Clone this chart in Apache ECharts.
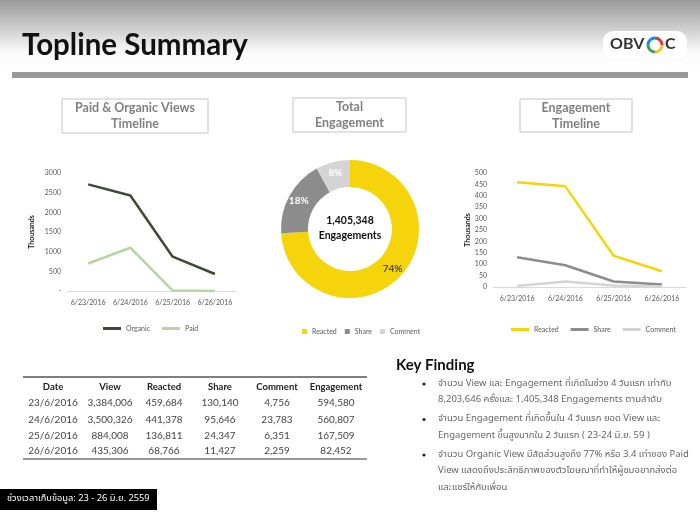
<!DOCTYPE html>
<html>
<head>
<meta charset="utf-8">
<script src="https://cdn.jsdelivr.net/npm/echarts@6/dist/echarts.min.js"></script>
<style>
  html, body { margin: 0; padding: 0; background: #fff; }
  #main { width: 700px; height: 525px; }
</style>
</head>
<body>
<div id="main"></div>
<script>
// ---- data ----
const days = ['6/23/2016', '6/24/2016', '6/25/2016', '6/26/2016'];
const organicViews = [2710, 2430, 872, 432];   // thousands
const paidViews = [700, 1100, 12, 3];          // thousands
const reactedK = [459.7, 441.4, 136.8, 68.8];  // thousands
const shareK = [130.1, 95.6, 24.3, 11.4];
const commentK = [4.8, 23.8, 6.4, 2.3];
const shareNames = ['Reacted', 'Share', 'Comment'];
const sharePct = [74, 18, 8];
const totalEngagement = '1,405,348';

const tableHead = ['Date', 'View', 'Reacted', 'Share', 'Comment', 'Engagement'];
const tableDates = ['23/6/2016', '24/6/2016', '25/6/2016', '26/6/2016'];
const tableView = ['3,384,006', '3,500,326', '884,008', '435,306'];
const tableReacted = ['459,684', '441,378', '136,811', '68,766'];
const tableShare = ['130,140', '95,646', '24,347', '11,427'];
const tableComment = ['4,756', '23,783', '6,351', '2,259'];
const tableEngagement = ['594,580', '560,807', '167,509', '82,452'];

const findings = [
  ['จำนวน View และ Engagement ที่เกิดในช่วง 4 วันแรก เท่ากับ', '8,203,646 ครั้งและ 1,405,348 Engagements ตามลำดับ'],
  ['จำนวน Engagement ที่เกิดขึ้นใน 4 วันแรก ยอด View และ', 'Engagement ขึ้นสูงมากใน 2 วันแรก ( 23-24 มิ.ย. 59 )'],
  ['จำนวน Organic View มีสัดส่วนสูงถึง 77% หรือ 3.4 เท่าของ Paid', 'View แสดงถึงประสิทธิภาพของตัวโฆษณาที่ทำให้ผู้ชมอยากส่งต่อ', 'และแชร์ให้กับเพื่อน']
];
const footerText = 'ช่วงเวลาเก็บข้อมูล: 23 - 26 มิ.ย. 2559';

const YELLOW = '#f5d40c';
const GRAY = '#8c8c8c';
const LIGHT = '#d4d4d4';
const FONT = 'Lato, "Open Sans", sans-serif';
const THAI = '"Noto Sans Thai", "Noto Sans", sans-serif';

// ---- graphic pieces ----
const graphics = [];
graphics.push({
  type: 'rect', shape: { x: 0, y: 0, width: 700, height: 70 }, silent: true,
  style: { fill: new echarts.graphic.LinearGradient(0, 0, 0, 1, [
    { offset: 0, color: '#9a9a9a' }, { offset: 0.75, color: '#fafafa' }, { offset: 1, color: '#ffffff' }]) }
});
graphics.push({ type: 'text', left: 22, top: 30,
  style: { text: 'Topline Summary', font: 'bold 29.5px ' + FONT, fill: '#111' } });
graphics.push({ type: 'rect', shape: { x: 12, y: 72, width: 676, height: 6 }, style: { fill: '#999' } });

// logo
graphics.push({ type: 'rect', shape: { x: 603, y: 31, width: 84, height: 28, r: 10 }, style: { fill: '#fff' } });
graphics.push({ type: 'text', left: 610, top: 36, style: { text: 'OBV', font: 'bold 16px ' + FONT, fill: '#333' } });
[['#e53935', -Math.PI / 2, 0], ['#fbc02d', 0, Math.PI / 2], ['#43a047', Math.PI / 2, Math.PI], ['#1e88e5', Math.PI, Math.PI * 1.5]]
  .forEach(function (a) {
    graphics.push({ type: 'arc', shape: { cx: 655, cy: 45, r: 7, startAngle: a[1], endAngle: a[2] },
      style: { stroke: a[0], lineWidth: 3, fill: null } });
  });
graphics.push({ type: 'text', left: 665, top: 36, style: { text: 'C', font: 'bold 16px ' + FONT, fill: '#333' } });

// chart title boxes
function titleBox(x, y, w, h, lines) {
  graphics.push({ type: 'rect', shape: { x: x, y: y, width: w, height: h },
    style: { fill: '#fff', stroke: '#c4c4c4', lineWidth: 1 } });
  graphics.push({ type: 'text', x: x + w / 2, y: y + h / 2,
    style: { text: lines.join('\n'), font: 'bold 12.5px ' + FONT, fill: '#808080',
      align: 'center', verticalAlign: 'middle', lineHeight: 16 } });
}
titleBox(62, 99, 146, 34, ['Paid & Organic Views', 'Timeline']);
titleBox(293, 98, 113, 34, ['Total', 'Engagement']);
titleBox(520, 99, 112, 33, ['Engagement', 'Timeline']);

// donut centre text
graphics.push({ type: 'text', x: 350, y: 228,
  style: { text: totalEngagement + '\nEngagements', font: 'bold 10.5px ' + FONT, fill: '#111',
    align: 'center', verticalAlign: 'middle', lineHeight: 15 } });

// table
const colX = [53, 110, 164, 220, 277, 336];
const rowY = [403, 420, 436, 451];
graphics.push({ type: 'line', shape: { x1: 23, y1: 377, x2: 367, y2: 377 }, style: { stroke: '#555', lineWidth: 1.5 } });
graphics.push({ type: 'line', shape: { x1: 23, y1: 459, x2: 367, y2: 459 }, style: { stroke: '#777', lineWidth: 1.5 } });
tableHead.forEach(function (h, i) {
  graphics.push({ type: 'text', x: colX[i], y: 387,
    style: { text: h, font: 'bold 9.5px ' + FONT, fill: '#222', align: 'center', verticalAlign: 'middle' } });
});
const tableCols = [tableDates, tableView, tableReacted, tableShare, tableComment, tableEngagement];
tableCols.forEach(function (col, i) {
  col.forEach(function (v, r) {
    graphics.push({ type: 'text', x: colX[i], y: rowY[r],
      style: { text: v, font: '10px ' + FONT, fill: '#444', align: 'center', verticalAlign: 'middle' } });
  });
});

// key finding
graphics.push({ type: 'text', left: 396, top: 358, style: { text: 'Key Finding', font: 'bold 15px ' + FONT, fill: '#111' } });
let ly = 384;
findings.forEach(function (lines) {
  graphics.push({ type: 'circle', shape: { cx: 424, cy: ly, r: 1.6 }, style: { fill: '#222' } });
  lines.forEach(function (t) {
    graphics.push({ type: 'text', x: 438, y: ly,
      style: { text: t, font: '9.5px ' + THAI, fill: '#666', verticalAlign: 'middle' } });
    ly += 16.5;
  });
  ly += 2.5;
});

// footer
graphics.push({ type: 'rect', shape: { x: 0, y: 489, width: 157, height: 21 }, style: { fill: '#000' } });
graphics.push({ type: 'text', x: 7, y: 499.5,
  style: { text: footerText, font: '9.3px ' + THAI, fill: '#fff', verticalAlign: 'middle' } });

// ---- axes ----
function xAxisFor(gi) {
  return {
    type: 'category', gridIndex: gi, data: days, boundaryGap: true,
    axisLine: { lineStyle: { color: '#d9d9d9' } }, axisTick: { show: false },
    axisLabel: { fontSize: 7, color: '#595959', fontFamily: FONT, margin: 8, interval: 0 }
  };
}
function yAxisFor(gi, max, step, gap, fmt) {
  return {
    type: 'value', gridIndex: gi, min: 0, max: max, interval: step,
    name: 'Thousands', nameLocation: 'middle', nameRotate: 90, nameGap: gap,
    nameTextStyle: { fontSize: 7, fontWeight: 'bold', color: '#222', fontFamily: FONT },
    axisLine: { show: false }, axisTick: { show: false }, splitLine: { show: false },
    axisLabel: { fontSize: 7, color: '#595959', fontFamily: FONT, margin: 6, formatter: fmt }
  };
}
function lineSeries(name, data, color, gi) {
  return { name: name, type: 'line', xAxisIndex: gi, yAxisIndex: gi, data: data,
    symbol: 'none', lineStyle: { width: 2.5, color: color }, itemStyle: { color: color }, silent: true };
}

const chart = echarts.init(document.getElementById('main'));
chart.setOption({
  animation: false,
  backgroundColor: '#fff',
  textStyle: { fontFamily: FONT },
  graphic: graphics,
  grid: [
    { left: 67, right: 464, top: 173, height: 118 },
    { left: 493, right: 14, top: 173, height: 114 }
  ],
  xAxis: [xAxisFor(0), xAxisFor(1)],
  yAxis: [
    yAxisFor(0, 3000, 500, 32, function (v) { return v === 0 ? '-' : v; }),
    yAxisFor(1, 500, 50, 22)
  ],
  legend: [
    { data: ['Organic', 'Paid'], left: 98, top: 320, icon: 'rect', itemWidth: 18, itemHeight: 3, itemGap: 12,
      textStyle: { fontSize: 7, color: '#595959' } },
    { data: shareNames, left: 297, top: 323, icon: 'rect', itemWidth: 5, itemHeight: 5, itemGap: 8,
      textStyle: { fontSize: 7, color: '#595959' } },
    { data: ['Reacted ', 'Share ', 'Comment '], left: 506, top: 321, icon: 'rect', itemWidth: 18, itemHeight: 3, itemGap: 10,
      textStyle: { fontSize: 7, color: '#595959' } }
  ],
  series: [
    lineSeries('Organic', organicViews, '#3f4a36', 0),
    lineSeries('Paid', paidViews, '#b4d7a0', 0),
    lineSeries('Reacted ', reactedK, YELLOW, 1),
    lineSeries('Share ', shareK, GRAY, 1),
    lineSeries('Comment ', commentK, LIGHT, 1),
    {
      type: 'pie', center: [350, 229], radius: [42, 69], startAngle: 90, clockwise: true,
      silent: true,
      data: shareNames.map(function (n, i) {
        return { name: n, value: sharePct[i], label: i === 0 ? { color: '#5a4a00' } : undefined };
      }),
      color: [YELLOW, GRAY, LIGHT],
      label: {
        position: 'inside', fontSize: 10, fontWeight: 'bold', fontFamily: FONT,
        formatter: '{c}%',
        color: '#fff'
      },
      labelLine: { show: false }
    }
  ]
});
</script>
</body>
</html>
